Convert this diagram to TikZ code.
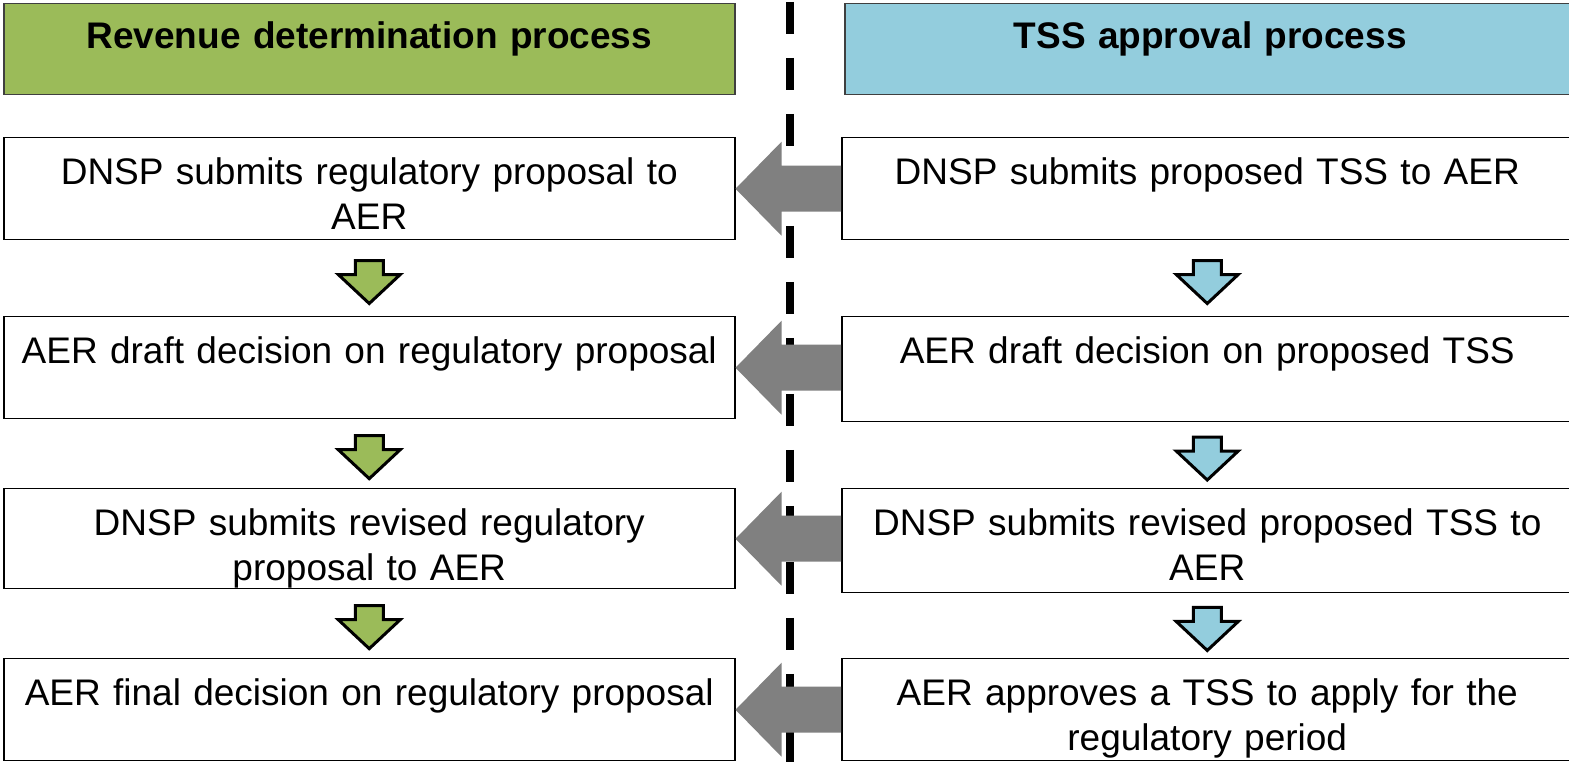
\documentclass[tikz,border=0pt]{standalone}
\usepackage{fontspec}
\setmainfont{Liberation Sans}
\usepackage{xcolor}
\usetikzlibrary{calc}
\definecolor{revgreen}{HTML}{9BBB59}
\definecolor{tssblue}{HTML}{93CDDD}
\definecolor{arrowgrey}{HTML}{808080}
\definecolor{headline}{HTML}{3F3F3F}
\tikzset{
	headbox/.style={
			draw=headline, line width=1.5pt, text width=711pt, align=center,
			inner xsep=10pt, inner ysep=18pt, text height=27pt, text depth=28pt,
			font=\fontsize{37}{45}\selectfont\bfseries, anchor=north west
		},
	stepbox/.style={
			draw, line width=1.5pt, fill=white, text width=711pt, align=center,
			inner xsep=10pt, inner ysep=0pt, text height=47pt, text depth=55pt,
			font=\fontsize{37}{45}\selectfont, anchor=north west
		},
	handover/.style={fill=arrowgrey},
	pics/flowdown/.style={
			code={
					\draw[line width=3pt, line join=miter, fill=#1]
						(-14, 21.5) -- (14, 21.5) -- (14, 7.5) -- (31, 7.5)
						-- (0, -21.5) -- (-31, 7.5) -- (-14, 7.5) -- cycle;
				}
		}
}

\begin{document}
\begin{tikzpicture}[x=1pt, y=1pt]
			\useasboundingbox (0, 0) rectangle (1569, 763);

			\node[headbox, fill=revgreen]	(revhead) at (3, 760) {Revenue determination process};
			\node[headbox, fill=tssblue]	(tsshead) at (844, 760) {TSS approval process};

			\draw[line width=8pt, dash pattern=on 32pt off 24pt]	(790, 761) -- (790, 0);

			\node[stepbox]	(rev1) at (3, 626) {DNSP submits regulatory proposal to\\AER};
			\node[stepbox]	(rev2) at (3, 447) {AER draft decision on regulatory proposal};
			\node[stepbox, text depth=53pt]	(rev3) at (3, 275) {DNSP submits revised regulatory\\proposal to AER};
			\node[stepbox]	(rev4) at (3, 105) {AER final decision on regulatory proposal};

			\node[stepbox]	(tss1) at (841, 626) {DNSP submits proposed TSS to AER};
			\node[stepbox, text depth=58pt]	(tss2) at (841, 447) {AER draft decision on proposed TSS};
			\node[stepbox, text depth=57pt]	(tss3) at (841, 275) {DNSP submits revised proposed TSS to\\AER};
			\node[stepbox]	(tss4) at (841, 105) {AER approves a TSS to apply for the\\regulatory period};

			\fill[handover]	(rev1.east) -- ++(46, 47) -- ++(0, -24) -- ($(tss1.west |- rev1.east)+(0, 23)$)
								-- ++(0, -46) -- ($(rev1.east)+(46, -23)$) -- ++(0, -24) -- cycle;
			\fill[handover]	(rev2.east) -- ++(46, 47) -- ++(0, -24) -- ($(tss2.west |- rev2.east)+(0, 23)$)
								-- ++(0, -46) -- ($(rev2.east)+(46, -23)$) -- ++(0, -24) -- cycle;
			\fill[handover]	(rev3.east) -- ++(46, 47) -- ++(0, -24) -- ($(tss3.west |- rev3.east)+(0, 23)$)
								-- ++(0, -46) -- ($(rev3.east)+(46, -23)$) -- ++(0, -24) -- cycle;
			\fill[handover]	(rev4.east) -- ++(46, 47) -- ++(0, -24) -- ($(tss4.west |- rev4.east)+(0, 23)$)
								-- ++(0, -46) -- ($(rev4.east)+(46, -23)$) -- ++(0, -24) -- cycle;

			\pic at ($(rev1.south)!0.55!(rev2.north)$) {flowdown=revgreen};
			\pic at ($(rev2.south)!0.55!(rev3.north)$) {flowdown=revgreen};
			\pic at ($(rev3.south)!0.55!(rev4.north)$) {flowdown=revgreen};
			\pic at ($(tss1.south)!0.55!(tss2.north)$) {flowdown=tssblue};
			\pic at ($(tss2.south)!0.55!(tss3.north)$) {flowdown=tssblue};
			\pic at ($(tss3.south)!0.55!(tss4.north)$) {flowdown=tssblue};
		\end{tikzpicture}
\end{document}
